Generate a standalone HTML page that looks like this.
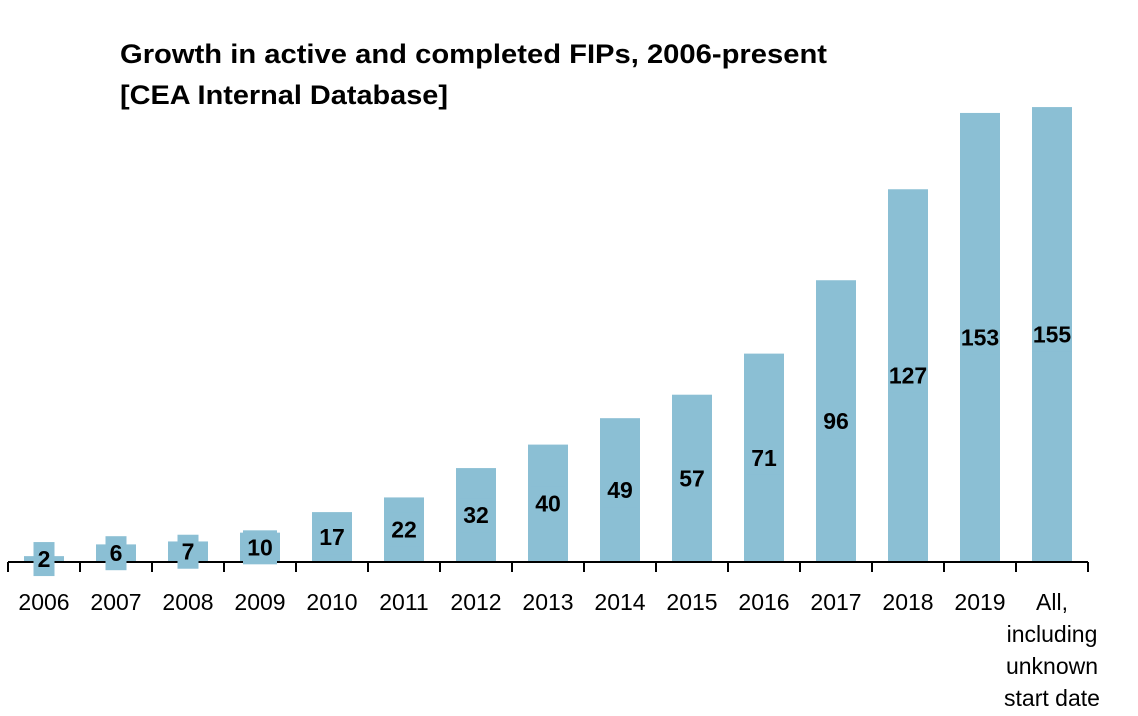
<!DOCTYPE html>
<html><head><meta charset="utf-8"><style>
body{margin:0;background:#fff;}
svg{display:block;font-family:"Liberation Sans",Arial,sans-serif;}
</style></head><body>
<svg id="c" width="1138" height="716">
<text x="120" y="63" font-size="27" font-weight="bold" textLength="707" lengthAdjust="spacingAndGlyphs">Growth in active and completed FIPs, 2006-present</text>
<text x="120" y="104" font-size="27" font-weight="bold" textLength="328" lengthAdjust="spacingAndGlyphs">[CEA Internal Database]</text>
<g id="bars"></g>
</svg>
<script>
const categories=["2006","2007","2008","2009","2010","2011","2012","2013","2014","2015","2016","2017","2018","2019","All"];
const values=[2,6,7,10,17,22,32,40,49,57,71,96,127,153,155];
const baseY=562, scale=2.935, x0=8, step=72, bw=40;
const g=document.getElementById('bars');
const NS='http://www.w3.org/2000/svg';
function yS(v){return baseY-v*scale;}
function xC(i){return x0+step*(i+0.5);}
values.forEach((v,i)=>{
  const r=document.createElementNS(NS,'rect');
  r.setAttribute('x',xC(i)-bw/2);r.setAttribute('y',yS(v));
  r.setAttribute('width',bw);r.setAttribute('height',baseY-yS(v));
  r.setAttribute('fill','#8bbfd4');
  
  
  g.appendChild(r);
});
const ax=document.createElementNS(NS,'line');
ax.setAttribute('x1',x0);ax.setAttribute('x2',x0+step*categories.length);
ax.setAttribute('y1',baseY);ax.setAttribute('y2',baseY);
ax.setAttribute('stroke','#000');ax.setAttribute('stroke-width','2');


g.appendChild(ax);
for(let i=0;i<=categories.length;i++){
  const t=document.createElementNS(NS,'line');
  t.setAttribute('x1',x0+step*i);t.setAttribute('x2',x0+step*i);
  t.setAttribute('y1',baseY);t.setAttribute('y2',baseY+10);
  t.setAttribute('stroke','#000');t.setAttribute('stroke-width','2');
  
  
  g.appendChild(t);
}
values.forEach((v,i)=>{
  const cy=(yS(v)+baseY)/2;
  const s=String(v);
  const w=Math.min(s.length*13+8,bw);
  const b=document.createElementNS(NS,'rect');
  b.setAttribute('x',xC(i)-w/2);b.setAttribute('y',cy-17);
  b.setAttribute('width',w);b.setAttribute('height',34);
  b.setAttribute('fill','#8bbfd4');
  
  
  g.appendChild(b);
  const t=document.createElementNS(NS,'text');
  t.setAttribute('x',xC(i));t.setAttribute('y',cy+8);
  t.setAttribute('text-anchor','middle');t.setAttribute('font-size','23');t.setAttribute('font-weight','bold');
  t.textContent=s;
  
  
  g.appendChild(t);
});
categories.forEach((c,i)=>{
  const lines=c==="All"?["All,","including","unknown","start date"]:[c];
  lines.forEach((l,j)=>{
    const t=document.createElementNS(NS,'text');
    t.setAttribute('x',xC(i));t.setAttribute('y',610+j*32);
    t.setAttribute('text-anchor','middle');t.setAttribute('font-size','23');
    t.textContent=l;
    
    
    g.appendChild(t);
  });
});
</script>
</body></html>
